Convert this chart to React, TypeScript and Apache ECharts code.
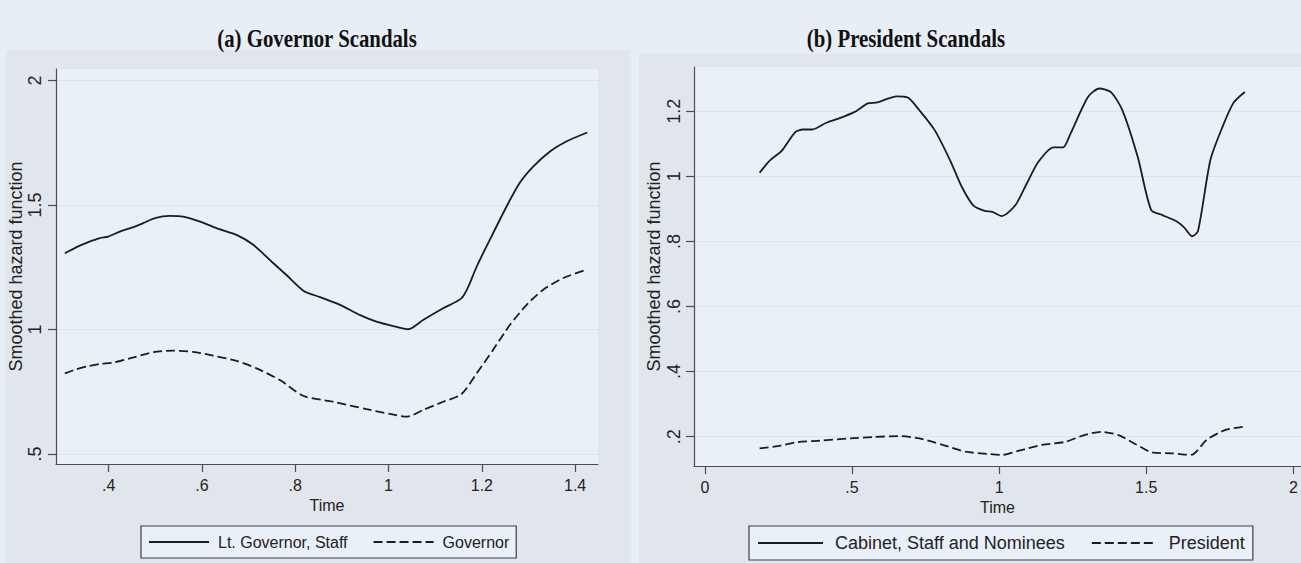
import React, { useEffect, useRef } from "react";
import * as echarts from "echarts";

// ---------- Data ----------
const ltGovTime = [0.306, 0.33, 0.355, 0.381, 0.399, 0.424, 0.453, 0.474, 0.499, 0.531, 0.56, 0.596, 0.631, 0.674, 0.71, 0.749, 0.781, 0.818, 0.853, 0.896, 0.939, 0.974, 1.01, 1.042, 1.074, 1.117, 1.156, 1.171, 1.189, 1.217, 1.253, 1.281, 1.31, 1.346, 1.381, 1.426];
const ltGovHazard = [1.306, 1.33, 1.35, 1.367, 1.373, 1.393, 1.411, 1.427, 1.447, 1.456, 1.453, 1.433, 1.407, 1.38, 1.34, 1.273, 1.219, 1.155, 1.13, 1.099, 1.058, 1.032, 1.014, 1.001, 1.038, 1.085, 1.125, 1.172, 1.253, 1.36, 1.494, 1.588, 1.654, 1.715, 1.755, 1.791];

const govTime = [0.306, 0.33, 0.355, 0.381, 0.41, 0.453, 0.496, 0.538, 0.581, 0.624, 0.674, 0.717, 0.767, 0.818, 0.881, 0.953, 1.003, 1.04, 1.074, 1.117, 1.156, 1.189, 1.224, 1.26, 1.296, 1.331, 1.374, 1.422];
const govHazard = [0.824, 0.84, 0.852, 0.862, 0.867, 0.888, 0.909, 0.915, 0.91, 0.895, 0.874, 0.844, 0.797, 0.733, 0.71, 0.68, 0.661, 0.65, 0.677, 0.71, 0.74, 0.824, 0.918, 1.018, 1.099, 1.159, 1.206, 1.239];

const cabinetTime = [0.186, 0.222, 0.261, 0.307, 0.333, 0.365, 0.411, 0.456, 0.509, 0.554, 0.586, 0.652, 0.69, 0.729, 0.781, 0.833, 0.873, 0.912, 0.951, 0.977, 1.009, 1.055, 1.094, 1.133, 1.185, 1.217, 1.243, 1.302, 1.341, 1.38, 1.419, 1.471, 1.517, 1.555, 1.601, 1.627, 1.656, 1.676, 1.718, 1.757, 1.796, 1.835];
const cabinetHazard = [1.011, 1.05, 1.078, 1.136, 1.144, 1.144, 1.164, 1.178, 1.198, 1.224, 1.227, 1.246, 1.242, 1.203, 1.142, 1.05, 0.968, 0.911, 0.894, 0.891, 0.878, 0.911, 0.978, 1.044, 1.089, 1.089, 1.132, 1.244, 1.27, 1.259, 1.203, 1.06, 0.896, 0.881, 0.863, 0.845, 0.816, 0.832, 1.05, 1.147, 1.225, 1.259];

const presTime = [0.186, 0.248, 0.313, 0.391, 0.495, 0.573, 0.658, 0.729, 0.808, 0.886, 0.964, 1.009, 1.068, 1.146, 1.224, 1.289, 1.347, 1.406, 1.458, 1.523, 1.588, 1.653, 1.705, 1.77, 1.835];
const presHazard = [0.164, 0.171, 0.183, 0.188, 0.195, 0.199, 0.202, 0.195, 0.175, 0.154, 0.147, 0.144, 0.157, 0.175, 0.184, 0.205, 0.215, 0.205, 0.18, 0.151, 0.149, 0.144, 0.19, 0.221, 0.231];

const leftXTicks = [0.4, 0.6, 0.8, 1, 1.2, 1.4];
const leftYTicks = [0.5, 1, 1.5, 2];
const rightXTicks = [0, 0.5, 1, 1.5, 2];
const rightYTicks = [0.2, 0.4, 0.6, 0.8, 1, 1.2];

const titles = ["(a) Governor Scandals", "(b) President Scandals"];
const leftNames = ["Lt. Governor, Staff", "Governor"];
const rightNames = ["Cabinet, Staff and Nominees", "President"];

const pairs = (xs: number[], ys: number[]) => xs.map((x, i) => [x, ys[i]]);
const fmt = (v: number) => {
  const s = String(Math.round(v * 1000) / 1000);
  return s.replace(/^0\./, ".");
};

const SANS = '"Liberation Sans", Arial, sans-serif';
const SERIF = '"Liberation Serif", "Times New Roman", serif';
const PAGE_BG = "#e8eef6";
const PANEL_BG = "#e1e6ed";
const PLOT_BG = "#eaf0f8";
const AXIS = "#4d4d4d";
const TEXT = "#222222";
const LINE = "#1c1c1c";

function xAxisOpt(gridIndex: number, min: number, max: number, ticks: number[], nameGap: number, fs: number) {
  return {
    type: "value",
    gridIndex,
    min,
    max,
    name: "Time",
    nameLocation: "middle",
    nameGap,
    nameTextStyle: { fontFamily: SANS, fontSize: fs, color: TEXT },
    axisLine: { show: true, onZero: false, lineStyle: { color: AXIS, width: 1.2 } },
    axisTick: { show: true, length: 8, customValues: ticks, lineStyle: { color: AXIS, width: 1.2 } },
    axisLabel: { customValues: ticks, formatter: fmt, margin: 13, fontFamily: SANS, fontSize: fs, color: TEXT },
    splitLine: { show: false },
  };
}

function yAxisOpt(gridIndex: number, min: number, max: number, ticks: number[], nameGap: number, margin: number) {
  return {
    type: "value",
    gridIndex,
    min,
    max,
    name: "Smoothed hazard function",
    nameLocation: "middle",
    nameGap,
    nameTextStyle: { fontFamily: SANS, fontSize: 18, color: TEXT },
    axisLine: { show: true, onZero: false, lineStyle: { color: AXIS, width: 1.2 } },
    axisTick: { show: true, length: 8, customValues: ticks, lineStyle: { color: AXIS, width: 1.2 } },
    axisLabel: { customValues: ticks, formatter: fmt, rotate: 90, margin, fontFamily: SANS, fontSize: 18, color: TEXT },
    splitLine: { show: true, lineStyle: { color: "#dde3eb", width: 1 } },
  };
}

function lineSeries(name: string, data: number[][], idx: number, dashed: boolean) {
  return {
    type: "line",
    name,
    xAxisIndex: idx,
    yAxisIndex: idx,
    data,
    smooth: 0.25,
    symbol: "none",
    showSymbol: false,
    lineStyle: { color: LINE, width: 1.8, type: dashed ? [9, 4] : "solid" },
    itemStyle: { color: LINE },
  };
}

function titleText(text: string, cx: number) {
  return {
    type: "text",
    x: cx,
    y: 38,
    scaleX: 0.8,
    style: {
      text,
      fontFamily: SERIF,
      fontSize: 26,
      fontWeight: "bold",
      fill: "#111",
      align: "center",
      verticalAlign: "middle",
      textAlign: "center",
      textVerticalAlign: "middle",
    },
  };
}

export default function App() {
  const ref = useRef<HTMLDivElement | null>(null);

  useEffect(() => {
    document.body.style.margin = "0";
    if (!ref.current) return;
    const chart = echarts.init(ref.current, undefined, { renderer: "svg" });

    const legendBase = {
      orient: "horizontal",
      itemHeight: 14,
      selectedMode: false,
      borderColor: "#3f3f3f",
      borderWidth: 1.2,
      borderRadius: 0,
      backgroundColor: PLOT_BG,
      itemStyle: { opacity: 0, borderWidth: 0 },
    };

    chart.setOption({
      animation: false,
      backgroundColor: PAGE_BG,
      graphic: [
        { type: "rect", z: -10, silent: true, shape: { x: 6, y: 50, width: 624, height: 513 }, style: { fill: PANEL_BG } },
        { type: "rect", z: -10, silent: true, shape: { x: 639, y: 54, width: 662, height: 509 }, style: { fill: PANEL_BG } },
        titleText(titles[0], 317),
        titleText(titles[1], 906),
      ],
      grid: [
        { left: 56, top: 69, width: 542, height: 395, show: true, backgroundColor: PLOT_BG, borderWidth: 0 },
        { left: 694, top: 67, width: 607, height: 399, show: true, backgroundColor: PLOT_BG, borderWidth: 0 },
      ],
      xAxis: [
        xAxisOpt(0, 0.287, 1.449, leftXTicks, 31, 16),
        xAxisOpt(1, -0.037, 2.026, rightXTicks, 29, 16),
      ],
      yAxis: [
        yAxisOpt(0, 0.46, 2.046, leftYTicks, 28, 12),
        yAxisOpt(1, 0.11, 1.336, rightYTicks, 31, 11),
      ],
      legend: [
        {
          ...legendBase,
          data: leftNames,
          left: 141,
          top: 526,
          itemWidth: 60,
          itemGap: 25,
          padding: [8, 7],
          textStyle: { fontFamily: SANS, fontSize: 16, color: TEXT, padding: [0, 0, 0, 4] },
        },
        {
          ...legendBase,
          data: rightNames,
          left: 749,
          top: 526,
          itemWidth: 65,
          itemGap: 26,
          padding: [8, 8],
          textStyle: { fontFamily: SANS, fontSize: 18, color: TEXT, padding: [0, 0, 0, 7] },
        },
      ],
      series: [
        lineSeries(leftNames[0], pairs(ltGovTime, ltGovHazard), 0, false),
        lineSeries(leftNames[1], pairs(govTime, govHazard), 0, true),
        lineSeries(rightNames[0], pairs(cabinetTime, cabinetHazard), 1, false),
        lineSeries(rightNames[1], pairs(presTime, presHazard), 1, true),
      ],
    });

    return () => chart.dispose();
  }, []);

  return <div ref={ref} style={{ position: "fixed", left: 0, top: 0, width: 1301, height: 563 }} />;
}
